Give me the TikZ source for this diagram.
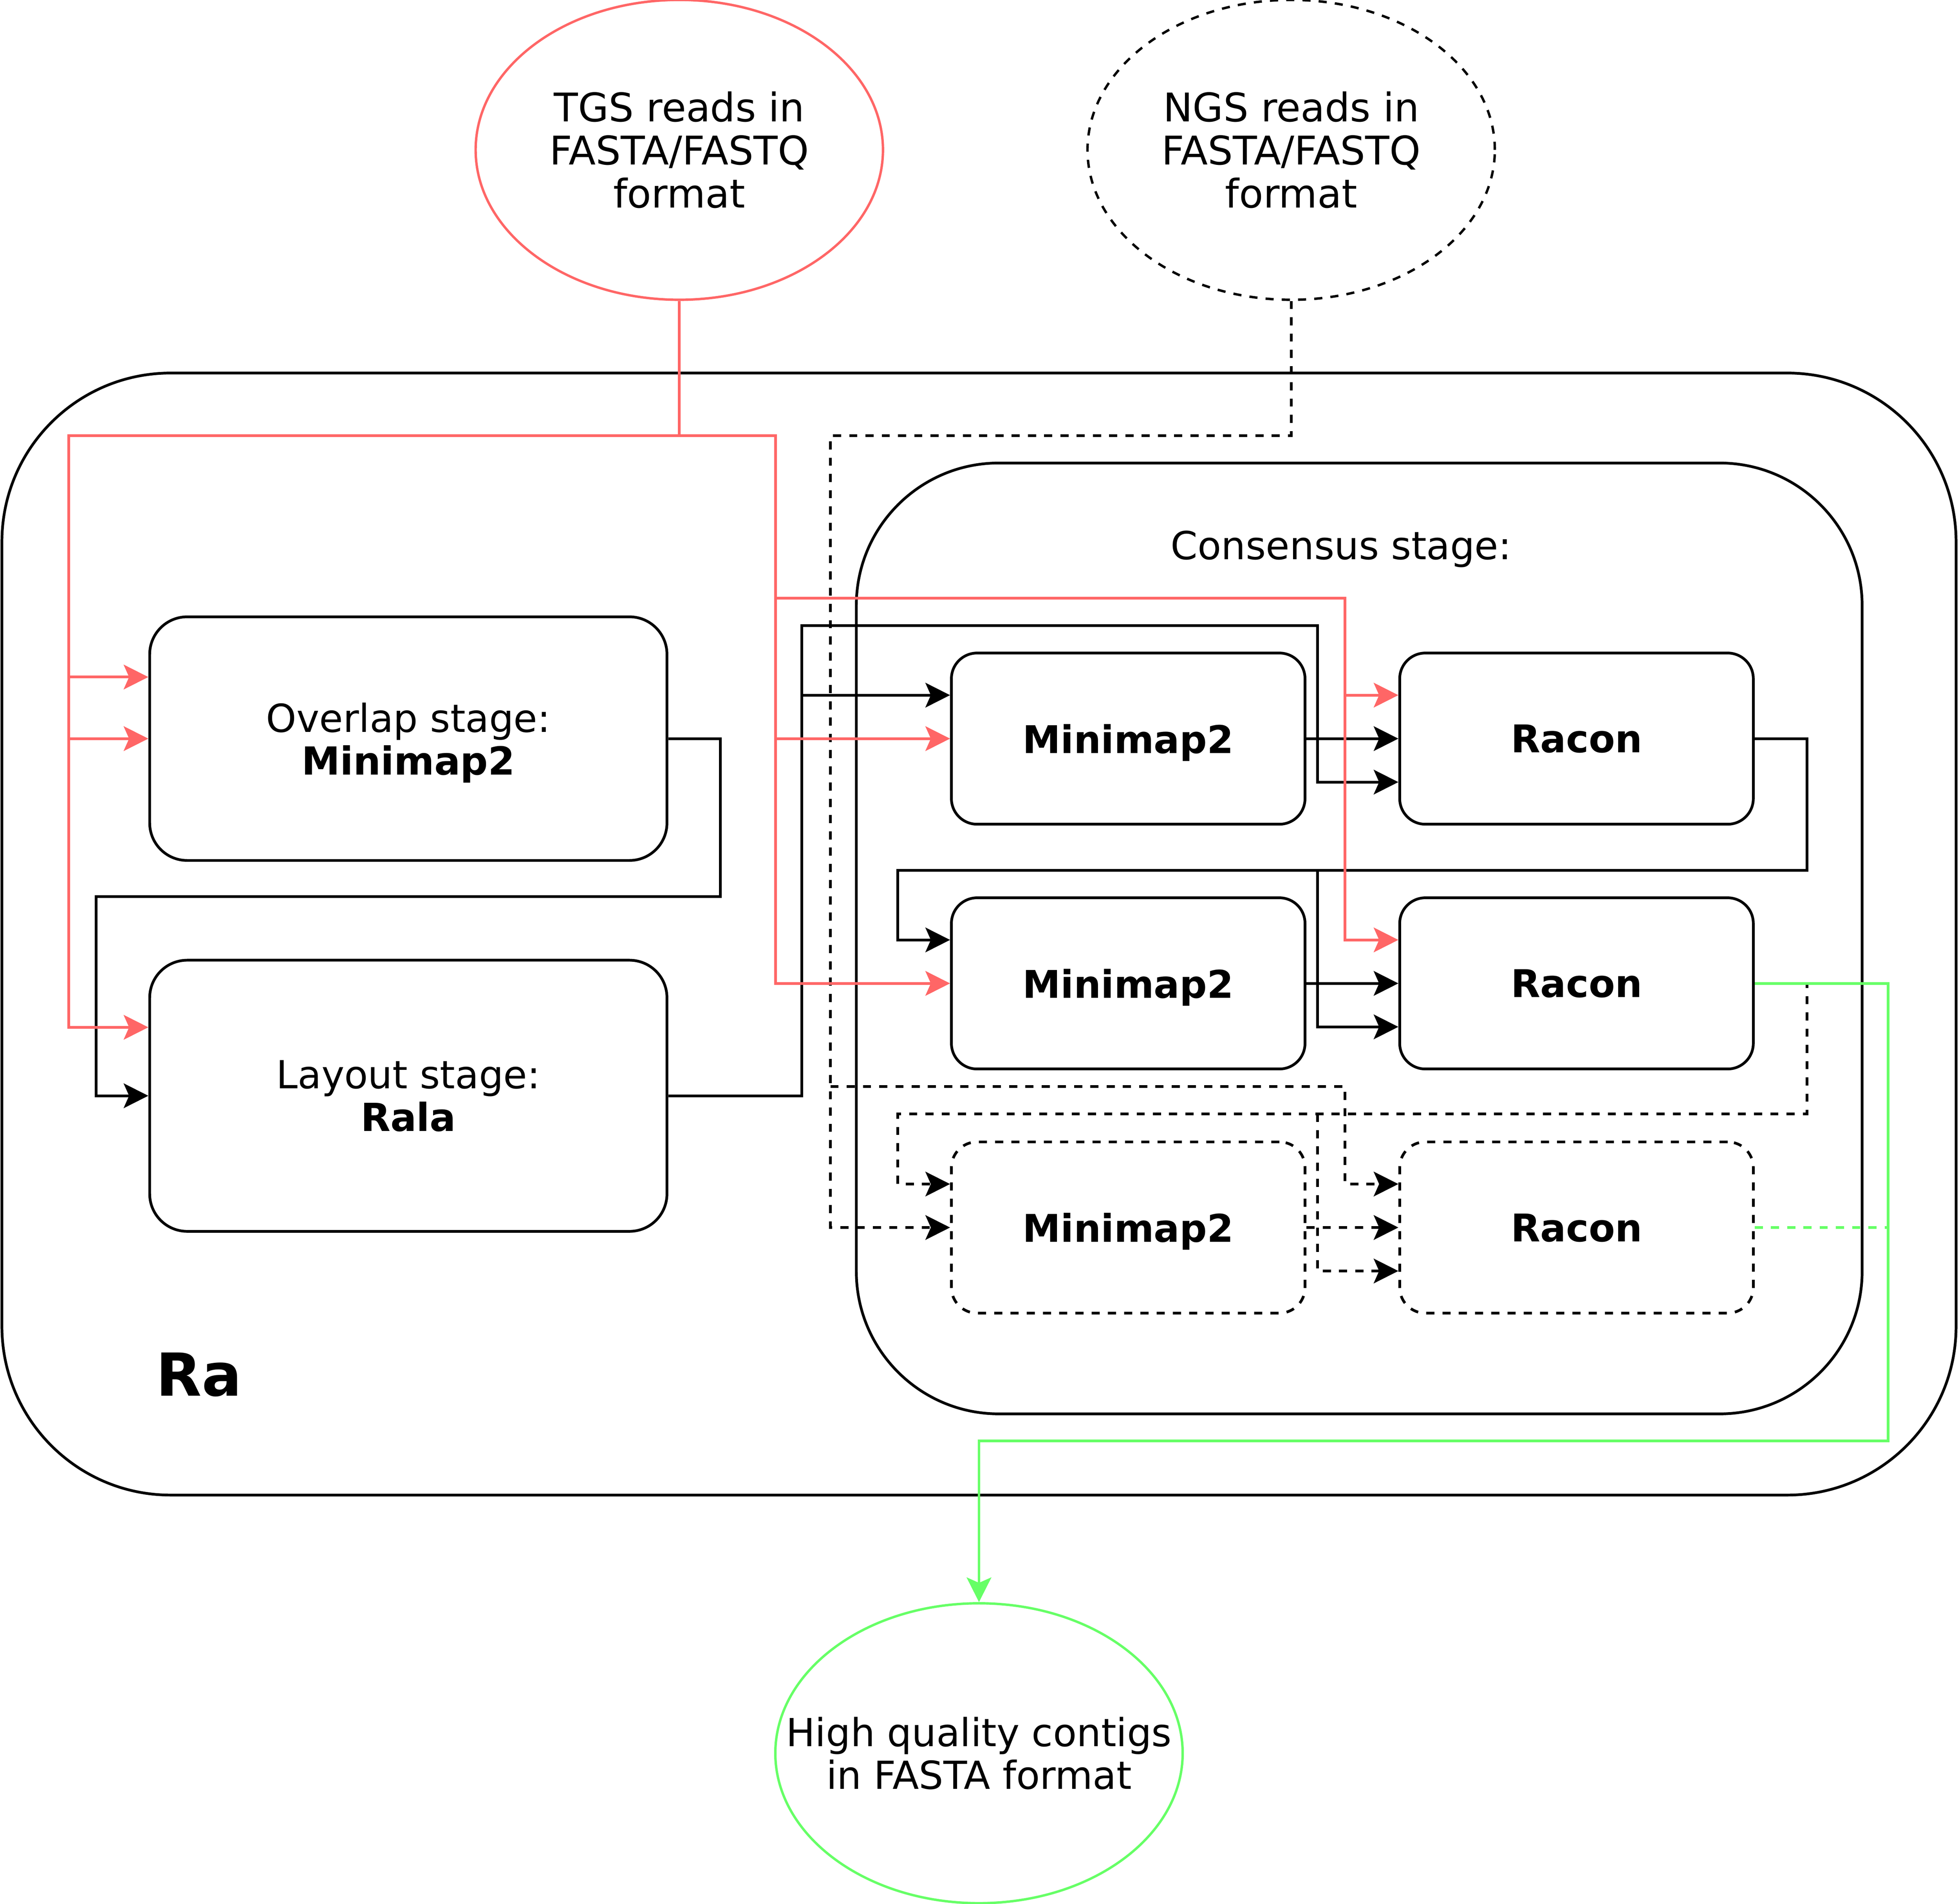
\documentclass[tikz,border=0pt]{standalone}
\usepackage{fontspec}
\setmainfont{DejaVu Sans}
\usetikzlibrary{shapes.geometric,arrows.meta,calc}
\definecolor{tgsred}{HTML}{FF6666}
\definecolor{outgreen}{HTML}{66FF66}
\tikzset{
  stagebox/.style={draw, rounded corners=0.3cm, minimum width=4.14cm, align=center, inner sep=0pt, text depth=0pt},
  toolbox/.style={draw, rounded corners=0.205cm, minimum width=2.83cm, minimum height=1.37cm, inner sep=0pt, text depth=0pt, font=\fontsize{8.7}{9.7}\selectfont\bfseries},
  dsh/.style={dash pattern=on 1.85pt off 1.85pt},
  dashedbox/.style={toolbox, dsh},
  io/.style={ellipse, minimum width=3.26cm, minimum height=2.4cm, inner sep=0pt, align=center, line width=0.55pt},
  arr/.style={-{Stealth[length=1.97mm, width=1.97mm, inset=0.43mm]}},
  redline/.style={color=tgsred},
  greenline/.style={color=outgreen},
}
\begin{document}
\begin{tikzpicture}[x=0.01cm, y=-0.01cm, line width=0.62pt, font=\fontsize{8.8}{9.7}\selectfont]
\fill[white] (0,0) rectangle (1568,1524.5);
\useasboundingbox (0,0) rectangle (1568,1524.5);

% containers
\node[draw, rounded corners=1.35cm, minimum width=15.64cm, minimum height=8.98cm, inner sep=0pt] (ra) at (784,748) {};
\node[draw, rounded corners=1.14cm, minimum width=8.05cm, minimum height=7.61cm, inner sep=0pt] (cons) at (1088.5,751.5) {};
\node[anchor=west, inner sep=0pt, font=\fontsize{13.5}{15}\selectfont\bfseries] (ralabel) at (124,1101) {Ra};
\node[anchor=base, inner sep=0pt] (conslabel) at (1074,448) {Consensus stage:};

% io ellipses
\node[io, draw=tgsred, font=\fontsize{9}{9.8}\selectfont] (tgs) at (544,120) {TGS reads in\\FASTA/FASTQ\\format};
\node[io, draw, dsh, font=\fontsize{9}{9.8}\selectfont] (ngs) at (1034,120) {NGS reads in\\FASTA/FASTQ\\format};
\node[io, draw=outgreen, inner xsep=-0.45cm] (out) at (784,1404) {High quality contigs\\in FASTA format};

% stage boxes
\node[stagebox, minimum height=1.95cm] (ovl) at (327,591.5) {Overlap stage:\\\textbf{Minimap2}};
\node[stagebox, minimum height=2.17cm] (lay) at (327,877.5) {Layout stage:\\\textbf{Rala}};

% tool boxes
\node[toolbox] (m1) at (903.5,591.5) {Minimap2};
\node[toolbox] (r1) at (1262.5,591.5) {Racon};
\node[toolbox] (m2) at (903.5,787.5) {Minimap2};
\node[toolbox] (r2) at (1262.5,787.5) {Racon};
\node[dashedbox] (m3) at (903.5,983) {Minimap2};
\node[dashedbox] (r3) at (1262.5,983) {Racon};

% anchor helpers (25% / 75% down the left side)
\coordinate (ovlA) at ($(ovl.north west)!.25!(ovl.south west)$);
\coordinate (layA) at ($(lay.north west)!.25!(lay.south west)$);
\coordinate (m1A) at ($(m1.north west)!.25!(m1.south west)$);
\coordinate (m2A) at ($(m2.north west)!.25!(m2.south west)$);
\coordinate (m3A) at ($(m3.north west)!.25!(m3.south west)$);
\coordinate (r1A) at ($(r1.north west)!.25!(r1.south west)$);
\coordinate (r2A) at ($(r2.north west)!.25!(r2.south west)$);
\coordinate (r3A) at ($(r3.north west)!.25!(r3.south west)$);
\coordinate (r1C) at ($(r1.north west)!.75!(r1.south west)$);
\coordinate (r2C) at ($(r2.north west)!.75!(r2.south west)$);
\coordinate (r3C) at ($(r3.north west)!.75!(r3.south west)$);

% bend points
\coordinate (tA) at (544,349);
\coordinate (tL) at (55,349);
\coordinate (tR) at (621,349);
\coordinate (tS) at (621,479);
\coordinate (tT) at (1077,479);
\coordinate (b1) at (577,718);
\coordinate (b2) at (77,718);
\coordinate (b3) at (642,501);
\coordinate (b4) at (1055,501);
\coordinate (b5) at (1447,697);
\coordinate (b6) at (719,697);
\coordinate (b7) at (1055,697);
\coordinate (d1) at (1034,349);
\coordinate (d2) at (665,349);
\coordinate (d3) at (665,870);
\coordinate (d4) at (1077,870);
\coordinate (d5) at (1447,892);
\coordinate (d6) at (719,892);
\coordinate (d7) at (1055,892);
\coordinate (g1) at (1512,1154);
\coordinate (g2) at (784,1154);
\coordinate (g3) at (1512,983);

% dashed (NGS) connectors
\draw[dsh, arr] (ngs.south) -- (d1) -- (d2) |- (m3.west);
\draw[dsh, arr] (d3) -- (d4) |- (r3A);
\draw[dsh, arr] (r2.east) -| (d5) -- (d6) |- (m3A);
\draw[dsh, arr] (d7) |- (r3C);
\draw[dsh, arr] (m3.east) -- (r3.west);

% black connectors
\draw[arr] (ovl.east) -| (b1) -- (b2) |- (lay.west);
\draw[arr] (lay.east) -| (b3) -- (b4) |- (r1C);
\draw[arr] (b3) |- (m1A);
\draw[arr] (m1.east) -- (r1.west);
\draw[arr] (r1.east) -| (b5) -- (b6) |- (m2A);
\draw[arr] (b7) |- (r2C);
\draw[arr] (m2.east) -- (r2.west);

% red (TGS) connectors
\draw[redline] (tgs.south) -- (tA);
\draw[redline, arr] (tA) -- (tL) |- (ovlA);
\draw[redline, arr] (tL) |- (ovl.west);
\draw[redline, arr] (tL) |- (layA);
\draw[redline, arr] (tA) -- (tR) |- (m1.west);
\draw[redline, arr] (tR) |- (m2.west);
\draw[redline, arr] (tS) -- (tT) |- (r1A);
\draw[redline, arr] (tT) |- (r2A);

% green output connectors
\draw[greenline, arr] (r2.east) -| (g1) -- (g2) -- (out.north);
\draw[greenline, dsh] (r3.east) -- (g3);
\end{tikzpicture}
\end{document}
